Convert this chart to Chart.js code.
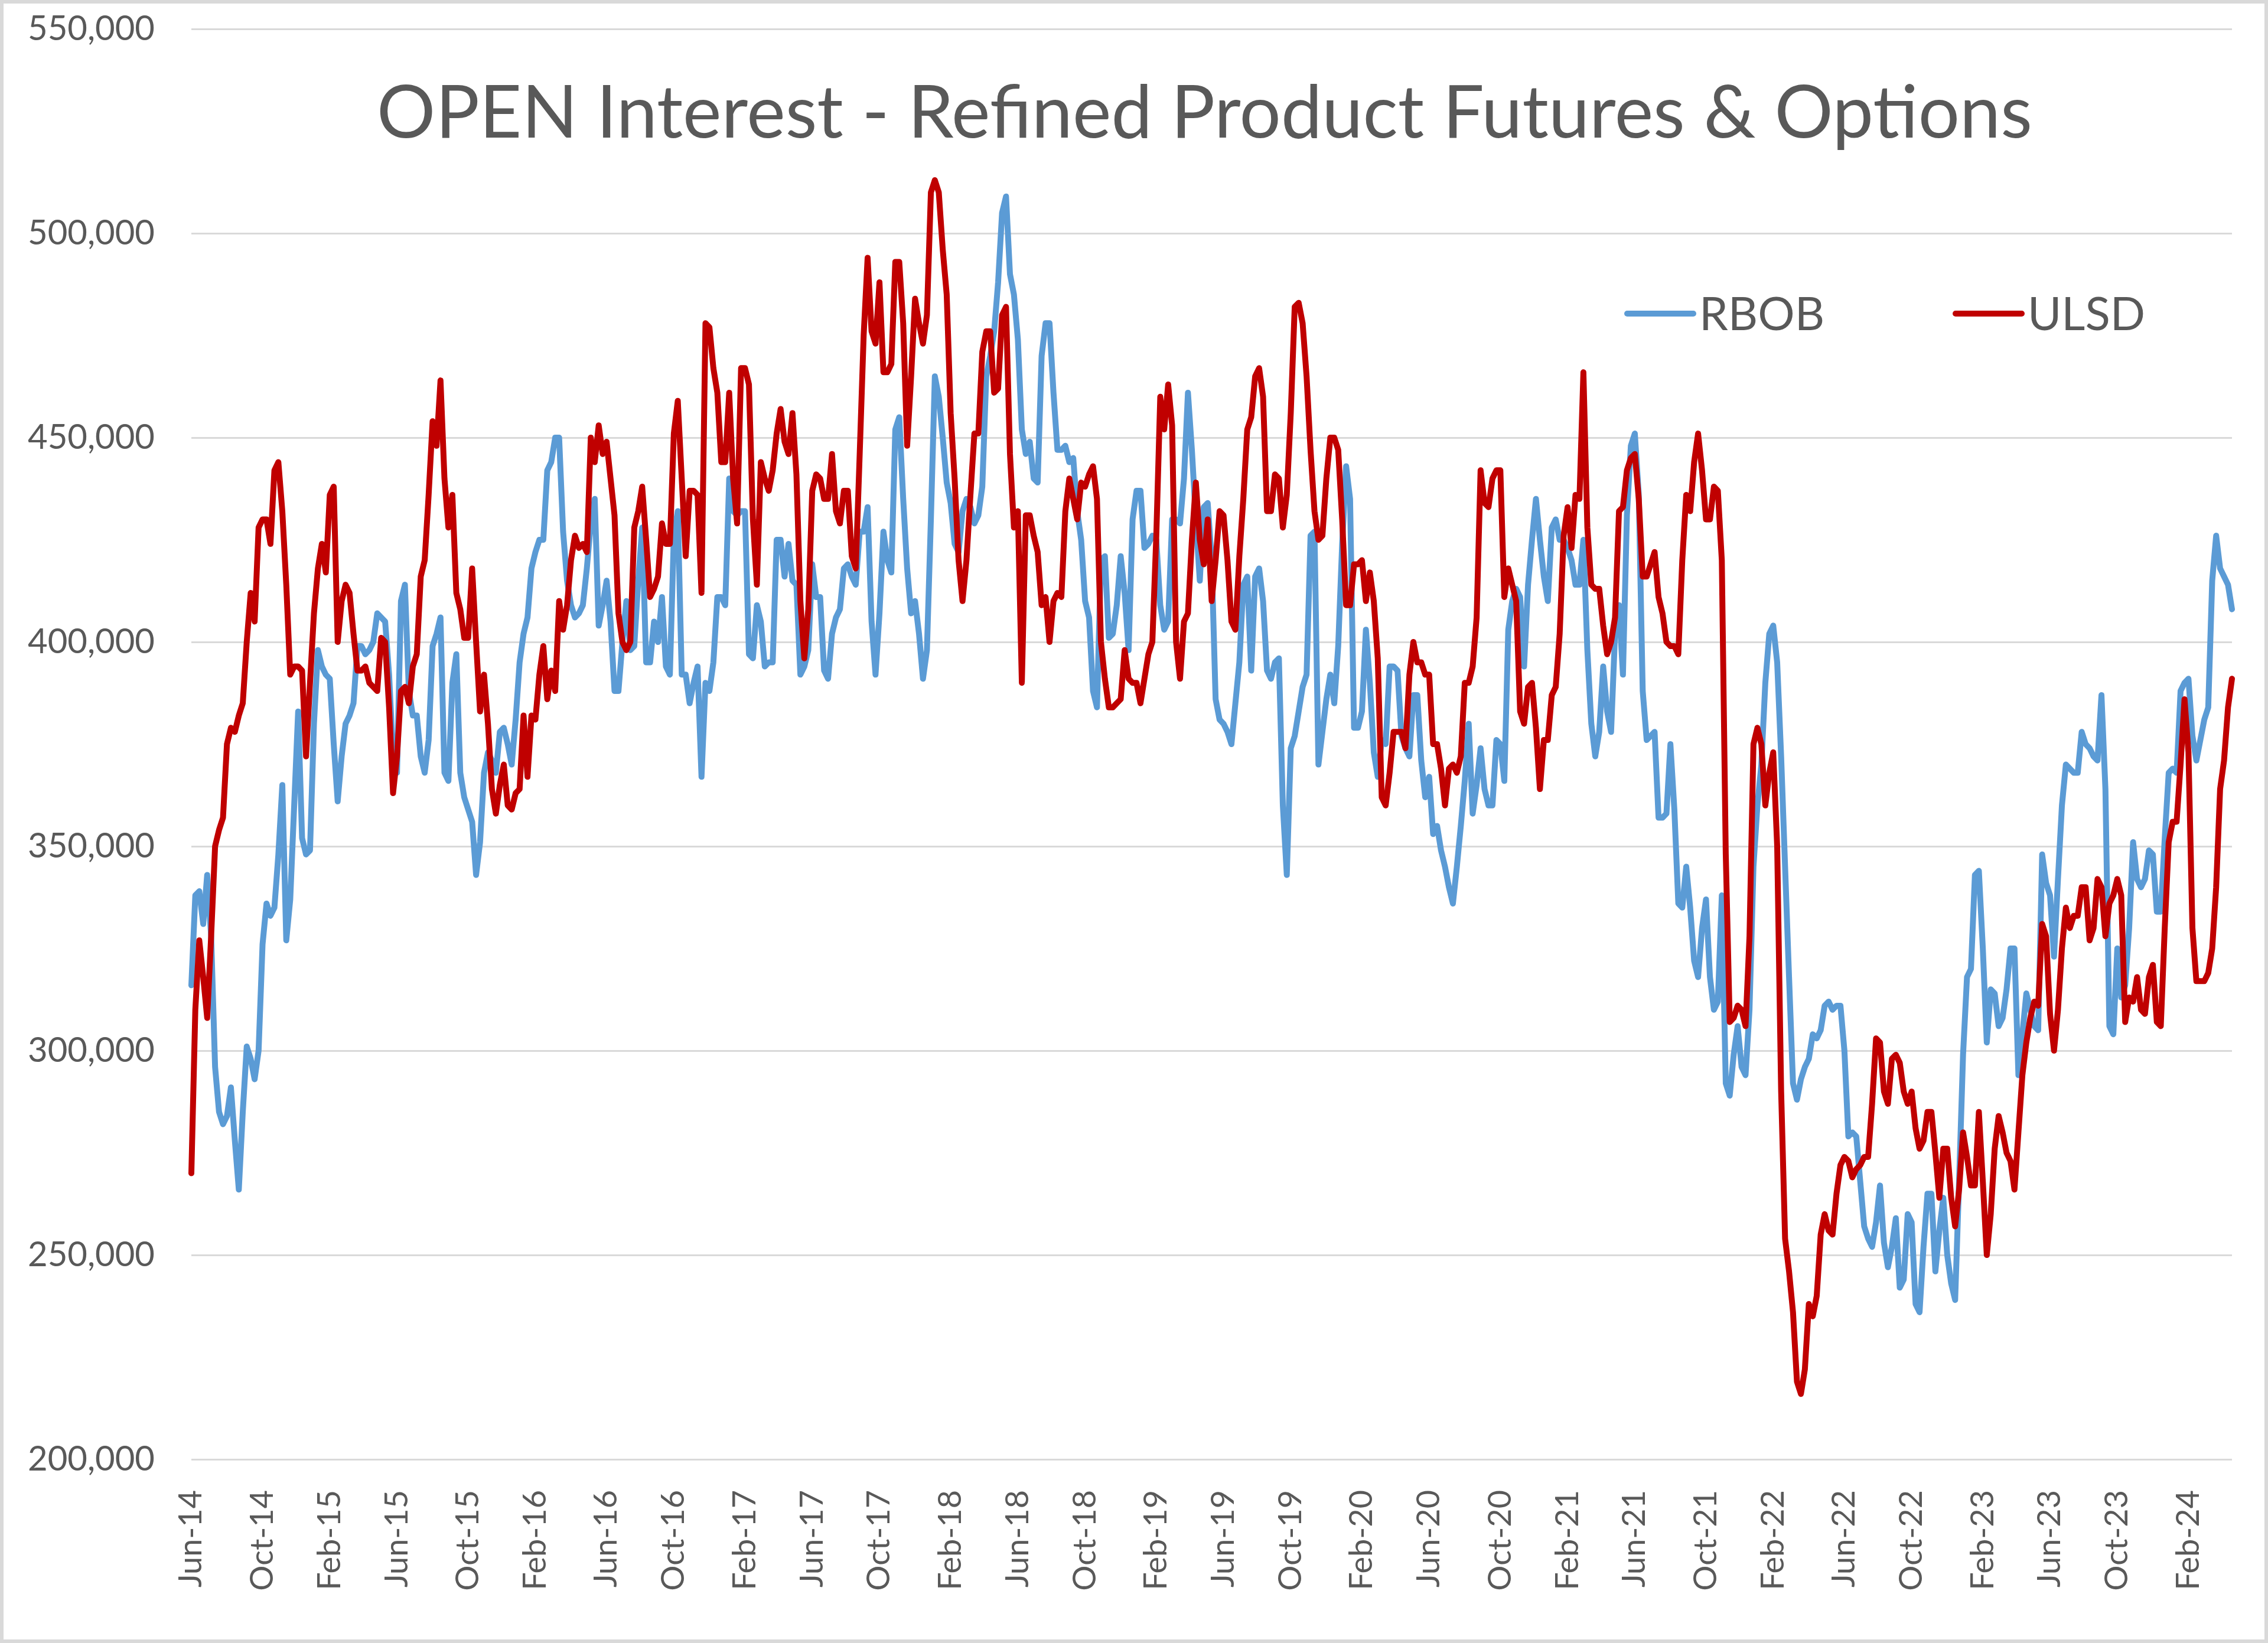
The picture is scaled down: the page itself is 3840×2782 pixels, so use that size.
<!DOCTYPE html>
<html>
<head>
<meta charset="utf-8">
<title>OPEN Interest - Refined Product Futures & Options</title>
<script src="https://cdn.jsdelivr.net/npm/chart.js@4.4.1/dist/chart.umd.min.js"></script>
<style>
    html, body { margin: 0; padding: 0; background: #ffffff; }
    canvas { display: block; }
</style>
</head>
<body>
<canvas id="oiChart" width="3840" height="2782"></canvas>
<script>
// weekly open interest, thousands of contracts, first report 3 Jun 2014
const firstWeek = [2014, 5, 3];

const tickLabels = [
    "Jun-14", "Oct-14", "Feb-15", "Jun-15", "Oct-15", "Feb-16", "Jun-16", "Oct-16",
    "Feb-17", "Jun-17", "Oct-17", "Feb-18", "Jun-18", "Oct-18", "Feb-19", "Jun-19",
    "Oct-19", "Feb-20", "Jun-20", "Oct-20", "Feb-21", "Jun-21", "Oct-21", "Feb-22",
    "Jun-22", "Oct-22", "Feb-23", "Jun-23", "Oct-23", "Feb-24",
];

const rbob = [
    316, 338, 339, 331, 343, 328, 296, 285, 282, 284,
    291, 278, 266, 285, 301, 298, 293, 300, 326, 336,
    333, 335, 348, 365, 327, 337, 360, 383, 352, 348,
    349, 380, 398, 394, 392, 391, 375, 361, 372, 380,
    382, 385, 399, 399, 397, 398, 400, 407, 406, 405,
    392, 372, 368, 410, 414, 388, 382, 382, 372, 368,
    376, 399, 402, 406, 368, 366, 390, 397, 368, 362,
    359, 356, 343, 351, 368, 373, 371, 368, 378, 379,
    375, 370, 381, 395, 402, 406, 418, 422, 425, 425,
    442, 444, 450, 450, 427, 415, 409, 406, 407, 409,
    418, 429, 435, 404, 409, 415, 405, 388, 388, 400,
    410, 398, 399, 415, 428, 395, 395, 405, 400, 411,
    394, 392, 426, 432, 392, 392, 385, 390, 394, 367,
    390, 388, 395, 411, 411, 409, 440, 432, 431, 432,
    432, 397, 396, 409, 405, 394, 395, 395, 425, 425,
    416, 424, 415, 414, 392, 394, 398, 419, 411, 411,
    393, 391, 402, 406, 408, 418, 419, 416, 414, 427,
    427, 433, 405, 392, 407, 427, 420, 417, 452, 455,
    435, 418, 407, 410, 402, 391, 398, 430, 465, 460,
    450, 439, 434, 424, 422, 432, 435, 433, 429, 431,
    438, 465, 470, 476, 488, 505, 509, 490, 485, 474,
    452, 446, 449, 440, 439, 470, 478, 478, 461, 447,
    447, 448, 444, 445, 432, 425, 410, 406, 388, 384,
    420, 421, 401, 402, 409, 421, 412, 398, 430, 437,
    437, 423, 424, 426, 425, 409, 403, 405, 430, 430,
    429, 440, 461, 447, 430, 415, 433, 434, 420, 386,
    381, 380, 378, 375, 385, 395, 414, 416, 393, 416,
    418, 410, 393, 391, 395, 396, 360, 343, 374, 377,
    383, 389, 392, 426, 427, 370, 378, 386, 392, 385,
    399, 424, 443, 435, 379, 379, 383, 403, 390, 373,
    367, 376, 375, 394, 394, 393, 377, 374, 372, 387,
    387, 371, 362, 367, 353, 355, 349, 345, 340, 336,
    345, 355, 366, 380, 358, 365, 374, 364, 360, 360,
    376, 375, 366, 403, 410, 413, 411, 394, 414, 425,
    435, 425, 416, 410, 428, 430, 425, 425, 423, 420,
    414, 414, 425, 398, 380, 372, 378, 394, 383, 378,
    402, 409, 392, 431, 448, 451, 436, 388, 376, 377,
    378, 357, 357, 358, 375, 359, 336, 335, 345, 335,
    322, 318, 330, 337, 318, 310, 312, 338, 292, 289,
    299, 306, 296, 294, 310, 345, 360, 370, 390, 402,
    404, 395, 372, 345, 318, 292, 288, 293, 296, 298,
    304, 303, 305, 311, 312, 310, 311, 311, 300, 279,
    280, 279, 268, 257, 254, 252, 258, 267, 253, 247,
    252, 259, 242, 244, 260, 258, 238, 236, 252, 265,
    265, 246, 256, 264, 250, 243, 239, 268, 299, 318,
    320, 343, 344, 325, 302, 315, 314, 306, 308, 315,
    325, 325, 294, 304, 314, 310, 306, 305, 348, 341,
    338, 323, 342, 360, 370, 369, 368, 368, 378, 375,
    374, 372, 371, 387, 364, 306, 304, 325, 313, 316,
    330, 351, 342, 340, 342, 349, 348, 334, 334, 352,
    368, 369, 368, 388, 390, 391, 377, 371, 376, 381,
    384, 415, 426, 418, 416, 414, 408,
];

const ulsd = [
    270, 310, 327, 318, 308, 328, 350, 354, 357, 375,
    379, 378, 382, 385, 400, 412, 405, 428, 430, 430,
    424, 442, 444, 432, 414, 392, 394, 394, 393, 372,
    390, 407, 418, 424, 417, 436, 438, 400, 410, 414,
    412, 402, 393, 393, 394, 390, 389, 388, 401, 400,
    384, 363, 372, 388, 389, 385, 394, 397, 416, 420,
    436, 454, 448, 464, 440, 428, 436, 412, 408, 401,
    401, 418, 400, 383, 392, 380, 364, 358, 365, 370,
    360, 359, 363, 364, 382, 367, 382, 381, 392, 399,
    386, 393, 388, 410, 403, 409, 420, 426, 423, 424,
    422, 450, 444, 453, 446, 449, 440, 431, 407, 400,
    398, 400, 428, 432, 438, 425, 411, 413, 416, 429,
    424, 424, 451, 459, 440, 421, 437, 437, 436, 412,
    478, 477, 467, 461, 444, 444, 461, 440, 429, 467,
    467, 463, 430, 414, 444, 440, 437, 442, 451, 457,
    449, 446, 456, 441, 410, 396, 408, 437, 441, 440,
    435, 435, 446, 432, 429, 437, 437, 421, 418, 446,
    475, 494, 476, 473, 488, 466, 466, 468, 493, 493,
    478, 448, 465, 484, 478, 473, 480, 510, 513, 510,
    496, 485, 456, 440, 420, 410, 420, 436, 451, 451,
    471, 476, 476, 461, 462, 480, 482, 446, 428, 432,
    390, 431, 431, 426, 422, 409, 411, 400, 410, 412,
    411, 432, 440, 435, 430, 439, 438, 441, 443, 435,
    400, 391, 384, 384, 385, 386, 398, 391, 390, 390,
    385, 391, 397, 400, 426, 460, 452, 463, 453, 400,
    391, 405, 407, 425, 439, 425, 419, 430, 410, 420,
    432, 431, 420, 405, 403, 421, 435, 452, 455, 465,
    467, 460, 432, 432, 441, 440, 428, 436, 456, 482,
    483, 478, 465, 447, 432, 425, 426, 440, 450, 450,
    447, 430, 409, 409, 419, 419, 420, 410, 417, 410,
    396, 362, 360, 368, 378, 378, 378, 374, 392, 400,
    395, 395, 392, 392, 375, 375, 369, 360, 369, 370,
    368, 372, 390, 390, 394, 406, 442, 434, 433, 440,
    442, 442, 411, 418, 414, 410, 383, 380, 389, 390,
    379, 364, 376, 376, 387, 389, 402, 426, 433, 423,
    436, 435, 466, 428, 414, 413, 413, 404, 397, 400,
    406, 432, 433, 442, 445, 446, 435, 416, 416, 419,
    422, 411, 407, 400, 399, 399, 397, 420, 436, 432,
    444, 451, 442, 430, 430, 438, 437, 420, 348, 307,
    308, 311, 310, 306, 328, 375, 379, 375, 360, 368,
    373, 350, 290, 254, 246, 236, 219, 216, 222, 238,
    235, 240, 255, 260, 256, 255, 265, 272, 274, 273,
    269, 271, 272, 274, 274, 287, 303, 302, 290, 287,
    298, 299, 297, 290, 287, 290, 281, 276, 278, 285,
    285, 275, 264, 276, 276, 264, 257, 266, 280, 274,
    267, 267, 285, 268, 250, 260, 276, 284, 280, 275,
    273, 266, 280, 294, 302, 308, 312, 311, 331, 328,
    309, 300, 310, 325, 335, 330, 333, 333, 340, 340,
    327, 330, 342, 340, 328, 336, 338, 342, 338, 307,
    313, 312, 318, 310, 309, 318, 321, 307, 306, 330,
    351, 356, 356, 370, 386, 373, 330, 317, 317, 317,
    319, 325, 340, 364, 371, 384, 391,
];

const monthNames = ["Jan", "Feb", "Mar", "Apr", "May", "Jun", "Jul", "Aug", "Sep", "Oct", "Nov", "Dec"];

// one category per weekly report, labelled like "Jun-14"
const weekLabels = rbob.map((_, i) => {
    const d = new Date(Date.UTC(firstWeek[0], firstWeek[1], firstWeek[2] + 7 * i));
    return monthNames[d.getUTCMonth()] + "-" + String(d.getUTCFullYear()).slice(2);
});

const FONT = "Lato";
const TEXT_GREY = "#595959";

// chart frame + white background
const framePlugin = {
    id: "framePlugin",
    beforeDraw: (chart) => {
        const { ctx, width, height } = chart;
        ctx.save();
        ctx.fillStyle = "#ffffff";
        ctx.fillRect(0, 0, width, height);
        ctx.strokeStyle = "#d9d9d9";
        ctx.lineWidth = 6;
        ctx.strokeRect(3, 3, width - 6, height - 6);
        ctx.restore();
    },
};

// title and legend sit inside the plot area, like the Excel original
const insidePlugin = {
    id: "insidePlugin",
    afterDraw: (chart) => {
        const { ctx, chartArea } = chart;
        ctx.save();
        ctx.fillStyle = TEXT_GREY;
        ctx.textAlign = "center";
        ctx.textBaseline = "alphabetic";
        ctx.font = `124px ${FONT}`;
        ctx.fillText(
            "OPEN Interest - Refined Product Futures & Options",
            (chartArea.left + chartArea.right) / 2 - 12,
            chartArea.top + 184
        );

        const legendX = [2755, 3311];
        const legendY = 531;
        ctx.font = `78px ${FONT}`;
        ctx.textAlign = "left";
        chart.data.datasets.forEach((ds, i) => {
            ctx.strokeStyle = ds.borderColor;
            ctx.lineWidth = 10;
            ctx.lineCap = "round";
            ctx.beginPath();
            ctx.moveTo(legendX[i], legendY);
            ctx.lineTo(legendX[i] + 112, legendY);
            ctx.stroke();
            ctx.fillStyle = TEXT_GREY;
            ctx.fillText(ds.label, legendX[i] + 122, legendY + 28);
        });
        ctx.restore();
    },
};

const ctx = document.getElementById("oiChart").getContext("2d");

const chart = new Chart(ctx, {
    type: "line",
    data: {
        labels: weekLabels,
        datasets: [
            {
                label: "RBOB",
                data: rbob.map((v) => v * 1000),
                borderColor: "#5b9bd5",
                borderWidth: 10,
                pointRadius: 0,
                tension: 0,
                borderJoinStyle: "round",
                borderCapStyle: "round",
                order: 1,
            },
            {
                label: "ULSD",
                data: ulsd.map((v) => v * 1000),
                borderColor: "#c00000",
                borderWidth: 10,
                pointRadius: 0,
                tension: 0,
                borderJoinStyle: "round",
                borderCapStyle: "round",
                order: 0,
            },
        ],
    },
    options: {
        responsive: false,
        animation: false,
        devicePixelRatio: 1,
        layout: {
            padding: { top: 49, right: 61, bottom: 0, left: 0 },
        },
        scales: {
            x: {
                type: "category",
                offset: false,
                grid: { display: false },
                border: { display: false },
                ticks: {
                    autoSkip: false,
                    minRotation: 90,
                    maxRotation: 90,
                    padding: 44,
                    color: TEXT_GREY,
                    font: { family: FONT, size: 54 },
                    callback: function (value, index) {
                        const lab = weekLabels[index];
                        const first = index === 0 || weekLabels[index - 1] !== lab;
                        return first && tickLabels.includes(lab) ? lab : "";
                    },
                },
                afterFit: (scale) => {
                    scale.height = 2782 - 2471;
                    scale.paddingLeft = 0;
                    scale.paddingRight = 0;
                },
            },
            y: {
                min: 200000,
                max: 550000,
                ticks: {
                    stepSize: 50000,
                    padding: 62,
                    color: TEXT_GREY,
                    font: { family: FONT, size: 58 },
                    callback: (v) => v.toLocaleString("en-US"),
                },
                grid: {
                    color: "#d9d9d9",
                    lineWidth: 3,
                    drawTicks: false,
                },
                border: { display: false },
                afterFit: (scale) => {
                    scale.width = 324;
                    scale.paddingTop = 0;
                    scale.paddingBottom = 0;
                },
            },
        },
        plugins: {
            legend: { display: false },
            tooltip: { enabled: false },
        },
    },
    plugins: [framePlugin, insidePlugin],
});
</script>
</body>
</html>
